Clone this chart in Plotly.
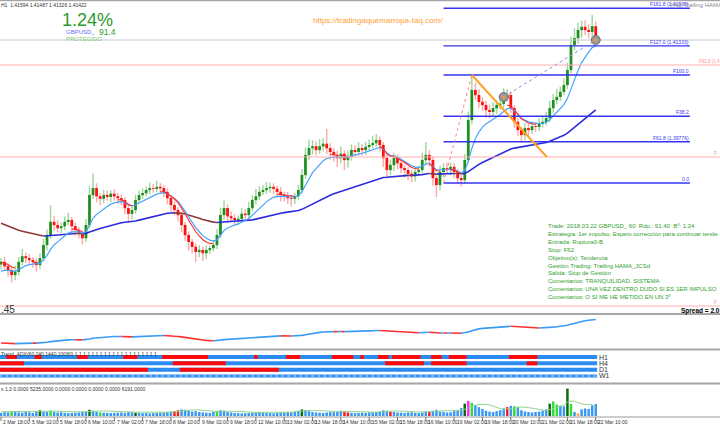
import numpy as np
import plotly.graph_objects as go

# ---------------- data ----------------
tick_labels = ["2 Mar 18:00", "5 Mar 02:00", "5 Mar 18:00", "6 Mar 10:00", "7 Mar 02:00",
               "7 Mar 18:00", "8 Mar 10:00", "9 Mar 02:00", "9 Mar 18:00", "12 Mar 10:00",
               "13 Mar 02:00", "13 Mar 18:00", "14 Mar 10:00", "15 Mar 02:00", "15 Mar 18:00",
               "16 Mar 10:00", "19 Mar 02:00", "19 Mar 18:00", "20 Mar 10:00", "21 Mar 02:00",
               "21 Mar 18:00", "22 Mar 10:00"]
tick_step = 8

first_open = 1.3783
closes = [
    1.3787, 1.3780, 1.3774, 1.3766, 1.3771, 1.3787, 1.3796, 1.3793, 1.3790, 1.3787,
    1.3782, 1.3793, 1.3814, 1.3830, 1.3851, 1.3846, 1.3841, 1.3844, 1.3851, 1.3854,
    1.3844, 1.3838, 1.3832, 1.3825, 1.3846, 1.3894, 1.3905, 1.3892, 1.3888, 1.3894,
    1.3891, 1.3896, 1.3892, 1.3889, 1.3886, 1.3873, 1.3864, 1.3870, 1.3886, 1.3894,
    1.3897, 1.3902, 1.3905, 1.3904, 1.3907, 1.3905, 1.3899, 1.3889, 1.3878, 1.3870,
    1.3862, 1.3846, 1.3830, 1.3819, 1.3811, 1.3803, 1.3806, 1.3801, 1.3806, 1.3809,
    1.3814, 1.3830, 1.3862, 1.3873, 1.3860, 1.3857, 1.3854, 1.3856, 1.3864, 1.3862,
    1.3873, 1.3886, 1.3892, 1.3899, 1.3902, 1.3905, 1.3907, 1.3904, 1.3899, 1.3894,
    1.3892, 1.3889, 1.3888, 1.3892, 1.3902, 1.3926, 1.3958, 1.3969, 1.3972, 1.3966,
    1.3972, 1.3976, 1.3969, 1.3963, 1.3958, 1.3953, 1.3960, 1.3950, 1.3955, 1.3966,
    1.3963, 1.3969, 1.3966, 1.3971, 1.3974, 1.3977, 1.3982, 1.3974, 1.3953, 1.3934,
    1.3942, 1.3953, 1.3945, 1.3937, 1.3934, 1.3928, 1.3924, 1.3931, 1.3934, 1.3950,
    1.3958, 1.3950, 1.3921, 1.3910, 1.3931, 1.3937, 1.3934, 1.3939, 1.3931, 1.3921,
    1.3918, 1.3950, 1.4014, 1.4062, 1.4054, 1.4043, 1.4038, 1.4030, 1.4027, 1.4033,
    1.4038, 1.4040, 1.4049, 1.4054, 1.4033, 1.4011, 1.3998, 1.3990, 1.4001, 1.3998,
    1.4004, 1.4003, 1.4008, 1.4011, 1.4017, 1.4033, 1.4046, 1.4051, 1.4059, 1.4070,
    1.4094, 1.4134, 1.4145, 1.4158, 1.4163, 1.4158, 1.4155, 1.4164, 1.4142]

up_wick_pips = [
    6, 8, 5, 6, 10, 8, 12, 6, 7, 5,
    6, 8, 10, 9, 27, 10, 8, 6, 9, 12,
    5, 6, 5, 6, 10, 14, 24, 8, 6, 9,
    7, 6, 8, 5, 6, 5, 6, 8, 9, 7,
    8, 6, 9, 7, 10, 6, 5, 6, 5, 6,
    5, 6, 5, 6, 5, 6, 8, 6, 7, 5,
    8, 10, 12, 13, 6, 8, 7, 6, 9, 8,
    10, 8, 12, 9, 8, 10, 7, 6, 5, 8,
    6, 7, 5, 6, 8, 10, 12, 14, 10, 8,
    12, 9, 24, 8, 6, 7, 12, 6, 10, 9,
    8, 10, 7, 8, 9, 12, 10, 6, 5, 6,
    9, 8, 6, 5, 6, 5, 6, 8, 7, 12,
    21, 8, 6, 5, 10, 8, 9, 7, 6, 5,
    6, 10, 14, 24, 12, 10, 8, 7, 9, 10,
    8, 9, 16, 10, 6, 5, 6, 5, 9, 7,
    8, 6, 9, 8, 10, 12, 10, 13, 9, 11,
    12, 14, 16, 12, 10, 11, 9, 18, 8]
lo_wick_pips = [
    8, 6, 10, 12, 8, 6, 5, 8, 6, 9,
    10, 6, 5, 8, 6, 9, 7, 8, 6, 5,
    8, 9, 7, 10, 6, 5, 6, 9, 10, 7,
    6, 8, 7, 9, 8, 10, 14, 9, 6, 5,
    6, 5, 7, 6, 5, 7, 8, 9, 10, 8,
    10, 12, 9, 14, 10, 16, 8, 12, 9, 6,
    5, 6, 5, 8, 9, 6, 7, 8, 5, 6,
    6, 5, 7, 6, 5, 6, 7, 8, 9, 10,
    8, 9, 12, 8, 6, 5, 6, 8, 10, 9,
    6, 8, 9, 12, 10, 14, 8, 16, 12, 6,
    7, 6, 9, 8, 6, 5, 6, 10, 14, 13,
    8, 9, 10, 8, 12, 10, 9, 8, 6, 5,
    6, 10, 12, 19, 8, 9, 6, 8, 10, 9,
    10, 6, 5, 6, 8, 10, 9, 12, 10, 8,
    9, 7, 6, 5, 8, 10, 9, 11, 8, 9,
    6, 8, 7, 6, 5, 6, 8, 7, 6, 5,
    6, 5, 8, 9, 12, 8, 10, 7, 6]

volumes = [
    700, 900, 800, 1000, 900, 800, 750, 900, 850, 700,
    1100, 1300, 1000, 900, 1200, 950, 800, 850, 700, 650,
    700, 750, 800, 900, 1100, 1400, 1200, 900, 800, 750,
    700, 650, 700, 750, 800, 700, 900, 850, 750, 700,
    650, 700, 600, 650, 700, 750, 800, 900, 1000, 1100,
    1300, 1500, 1400, 1200, 1000, 1100, 900, 800, 750, 700,
    900, 1100, 1300, 1200, 900, 800, 700, 650, 600, 650,
    700, 750, 800, 900, 850, 700, 650, 600, 700, 750,
    800, 900, 850, 1000, 1200, 1500, 1300, 1100, 900, 800,
    750, 700, 800, 900, 850, 1000, 1200, 900, 800, 700,
    650, 700, 750, 700, 800, 850, 900, 1000, 1300, 1200,
    1000, 900, 800, 750, 700, 800, 850, 700, 650, 800,
    1000, 900, 1200, 1400, 1000, 900, 800, 850, 1100, 1300,
    1800, 2800, 3400, 3000, 2500, 2000, 1600, 1200, 1000, 900,
    1100, 1300, 1700, 2000, 2300, 2200, 2100, 1300, 1000, 900,
    800, 900, 1000, 1200, 1500, 2800, 3300, 2600, 2300, 2200,
    6191, 2700, 900, 600, 1500, 1700, 1600, 2400, 2700]
vol_class = {3: "g", 11: "G", 14: "g", 25: "G", 28: "g", 38: "G", 49: "r", 50: "r",
             61: "g", 85: "G", 97: "r", 98: "r", 110: "r", 121: "r", 131: "G",
             132: "m", 133: "g", 143: "r", 145: "g", 155: "G", 156: "g", 157: "g",
             160: "G", 161: "g", 163: "o"}

trend_rows = ["H1", "H4", "D1", "W1"]
trend_red_spans = {
    "H1": [(2, 4), (10, 11), (22, 24), (35, 38), (46, 58), (72, 72), (81, 84), (94, 99),
           (102, 102), (107, 109), (111, 118), (122, 124), (127, 131), (144, 151)],
    "H4": [(0, 6), (49, 63), (109, 119), (122, 131), (149, 151)],
    "D1": [(0, 41), (51, 78)],
    "W1": [],
}

bid_price = 1.41422
fib_low, fib_high = 1.39134, 1.40862
fib_start_idx, fib_high_idx, fib_right_idx = 125, 133, 194.6
fib_levels = [0.0, 0.382, 0.618, 1.0, 1.27, 1.618]
fib_labels = ["0.0", "F61.8 (1.39776)", "F38.2", "F100.0", "F127.0 (1.41333)", "F161.8 (1.41930)"]
pink_levels = [1.41022, 1.39550, 1.37166]
pink_labels = ["F61.8 (1.4", "F", "F"]
pink_label_px = [698, 713, 713]
entry_point = (142, 1.4051)
last_point = (168, 1.41422)
orange_end = (154.2, 1.39550)

comment_lines = [
    "Trade: 2018.03.22 GBPUSD_ 60  Rdo.: 91.40  Bº: 1.24",
    "Estrategia: 1er impulso. Espero corrección para continuar tende",
    "Entrada: Ruptura0-B",
    "Stop: F62",
    "Objetivo(s): Tendencia",
    "Gestión Trading: Trailing HAMA_JCSd",
    "Salida: Stop de Gestión",
    "Comentarios: TRANQUILIDAD. SISTEMA",
    "Comentarios: UNA VEZ DENTRO DUDO SI ES 1ER IMPULSO",
    "Comentarios: O SI ME HE METIDO EN UN 3º",
]

# ---------------- derived ----------------
W, H = 720, 426
n = len(closes)
idx = np.arange(n)
c = np.array(closes)
o = np.concatenate([[first_open], c[:-1]])
hi = np.maximum(o, c) + np.array(up_wick_pips) * 0.0001
lo = np.minimum(o, c) - np.array(lo_wick_pips) * 0.0001


def ema(vals, period, seed=None):
    a = 2.0 / (period + 1)
    prev = vals[0] if seed is None else seed
    out = []
    for v in vals:
        prev = prev + a * (v - prev)
        out.append(prev)
    return np.array(out)


def slope_segments(x, y, rising=True):
    xs, ys = [], []
    last = None
    for i in range(1, len(y)):
        cond = (y[i] >= y[i - 1]) if rising else (y[i] < y[i - 1])
        if cond:
            if last == i - 1:
                xs.append(x[i]); ys.append(y[i])
            else:
                xs += [None, x[i - 1], x[i]]; ys += [None, y[i - 1], y[i]]
            last = i
    return xs, ys


def py(px):
    return 1 - px / H


FONT = "Liberation Sans"
fig = go.Figure()

# main price panel: candles drawn as bars (light shadow, dark body) -------
bull = c >= o
for mask, light in [(bull, "#9fd69f"), (~bull, "#ffa8a8")]:
    fig.add_trace(go.Bar(x=idx[mask], y=(hi - lo)[mask], base=lo[mask], width=0.4,
                         marker=dict(color=light, line=dict(width=0)), showlegend=False,
                         xaxis="x", yaxis="y", hoverinfo="skip"))
for mask, dark in [(bull, "#1f8f1f"), (~bull, "#ff1010")]:
    fig.add_trace(go.Bar(x=idx[mask], y=np.abs(c - o)[mask] + 0.00003, base=np.minimum(o, c)[mask],
                         width=0.78, marker=dict(color=dark, line=dict(width=0)), showlegend=False,
                         xaxis="x", yaxis="y", hoverinfo="skip"))

slow = ema(c, 60, seed=1.3851)
for rising, col in [(True, "#2b2bdc"), (False, "#8e3b36")]:
    xs, ys = slope_segments(idx, slow, rising)
    fig.add_trace(go.Scatter(x=xs, y=ys, mode="lines", line=dict(color=col, width=1.6),
                             showlegend=False, hoverinfo="skip"))
fast = ema(c, 10, seed=1.3769)
fig.add_trace(go.Scatter(x=idx, y=fast, mode="lines", line=dict(color="#46a3ff", width=1.2),
                         showlegend=False, hoverinfo="skip"))
hama = ema(c, 8)
xs, ys = slope_segments(idx, hama, rising=False)
fig.add_trace(go.Scatter(x=xs, y=ys, mode="lines", line=dict(color="#ff2a2a", width=1.1),
                         showlegend=False, hoverinfo="skip"))

# fibonacci and drawn objects
fib_range = fib_high - fib_low
for lev, lab in zip(fib_levels, fib_labels):
    p = fib_low + lev * fib_range
    fig.add_trace(go.Scatter(x=[fib_start_idx, fib_right_idx], y=[p, p], mode="lines",
                             line=dict(color="#3535f0", width=1.4), showlegend=False, hoverinfo="skip"))
    fig.add_annotation(x=fib_right_idx, y=p, xref="x", yref="y", text=lab, showarrow=False,
                       xanchor="right", yanchor="bottom", borderpad=0,
                       font=dict(size=5, color="#3535f0", family=FONT))
for p, lab, xpx in zip(pink_levels, pink_labels, pink_label_px):
    fig.add_trace(go.Scatter(x=[-1, 210], y=[p, p], mode="lines",
                             line=dict(color="#ffb0b0", width=1.2), showlegend=False, hoverinfo="skip"))
    fig.add_annotation(x=xpx / W, y=p, xref="paper", yref="y", text=lab, showarrow=False,
                       xanchor="left", yanchor="bottom", borderpad=0,
                       font=dict(size=4.5, color="#ff8a8a", family=FONT))
fig.add_trace(go.Scatter(x=[-1, 210], y=[bid_price, bid_price], mode="lines",
                         line=dict(color="#c8ccd2", width=1), showlegend=False, hoverinfo="skip"))
fig.add_trace(go.Scatter(x=[fib_start_idx, fib_high_idx], y=[fib_low, fib_high], mode="lines",
                         line=dict(color="#ff8080", width=1, dash="dot"), showlegend=False, hoverinfo="skip"))
fig.add_trace(go.Scatter(x=[entry_point[0], last_point[0]], y=[entry_point[1], last_point[1]], mode="lines",
                         line=dict(color="#8a8ae8", width=1, dash="dot"), showlegend=False, hoverinfo="skip"))
fig.add_trace(go.Scatter(x=[fib_high_idx, orange_end[0]], y=[fib_high, orange_end[1]], mode="lines",
                         line=dict(color="#ffa126", width=2), showlegend=False, hoverinfo="skip"))
fig.add_trace(go.Scatter(x=[entry_point[0], last_point[0]], y=[entry_point[1], last_point[1]], mode="markers",
                         marker=dict(size=9, color="#9a9a9a", line=dict(color="#707070", width=1)),
                         showlegend=False, hoverinfo="skip"))
fig.add_trace(go.Scatter(x=[entry_point[0], last_point[0]], y=[entry_point[1], last_point[1]], mode="markers",
                         marker=dict(size=3, color="#ff9a30"), showlegend=False, hoverinfo="skip"))

# indicator panel 1 ------------------------------------------------------
ind = ema(c, 10)
for rising, col in [(True, "#3a9bf5"), (False, "#ff3030")]:
    xs, ys = slope_segments(idx, ind, rising)
    fig.add_trace(go.Scatter(x=xs, y=ys, mode="lines", line=dict(color=col, width=1.6),
                             xaxis="x", yaxis="y2", showlegend=False, hoverinfo="skip"))

# trend panel ------------------------------------------------------------
row_val = {"H1": 4, "H4": 3, "D1": 2, "W1": 1}
for r in trend_rows:
    v = row_val[r]
    fig.add_trace(go.Scatter(x=[-0.5, n - 0.6], y=[v, v], mode="lines",
                             line=dict(color="#2a8cf0", width=4 if r != "W1" else 3),
                             xaxis="x", yaxis="y3", showlegend=False, hoverinfo="skip"))
    if r == "W1":
        fig.add_trace(go.Scatter(x=[-0.5, n - 0.6], y=[v, v], mode="lines",
                                 line=dict(color="#bfe0ff", width=1, dash="dot"),
                                 xaxis="x", yaxis="y3", showlegend=False, hoverinfo="skip"))
    xs, ys = [], []
    for s, e in trend_red_spans[r]:
        xs += [s - 0.5, e + 0.5, None]; ys += [v, v, None]
    if xs:
        fig.add_trace(go.Scatter(x=xs, y=ys, mode="lines", line=dict(color="#ff0a0a", width=4),
                                 xaxis="x", yaxis="y3", showlegend=False, hoverinfo="skip"))
    fig.add_annotation(x=n - 0.4, y=v, xref="x", yref="y3", text=r, showarrow=False,
                       xanchor="left", yanchor="middle", borderpad=0,
                       font=dict(size=7, color="#333333", family=FONT))

# volume panel -----------------------------------------------------------
vcol_map = {"b": "#3a97f2", "g": "#33dd33", "G": "#0b6b0b", "r": "#ff1a1a", "m": "#ff22ff", "o": "#ffaa33"}
vcols = [vcol_map[vol_class.get(i, "b")] for i in range(n)]
fig.add_trace(go.Bar(x=idx, y=volumes, width=0.7, marker=dict(color=vcols, line=dict(width=0)),
                     xaxis="x", yaxis="y4", showlegend=False, hoverinfo="skip"))
vma = np.convolve(np.array(volumes, float), np.ones(8) / 8, mode="full")[:n]
vma[:7] = np.array(volumes[:7], float).mean()
fig.add_trace(go.Scatter(x=idx, y=vma * 1.15, mode="lines", line=dict(color="#8fd88f", width=1),
                         xaxis="x", yaxis="y4", showlegend=False, hoverinfo="skip"))

# ---------------- layout ----------------
xr = [-0.28, 203.1]
fig.update_layout(
    width=W, height=H, autosize=False, margin=dict(l=0, r=0, t=0, b=0),
    paper_bgcolor="white", plot_bgcolor="white", barmode="overlay", showlegend=False,
    xaxis=dict(range=xr, visible=False, fixedrange=True),
    yaxis=dict(domain=[py(313), py(2)], range=[1.37054, 1.42030], visible=False),
    yaxis2=dict(domain=[py(348), py(316)], range=[1.3714, 1.4184], visible=False),
    yaxis3=dict(domain=[py(382), py(351)], range=[0.05, 4.95], visible=False),
    yaxis4=dict(domain=[py(416), py(385)], range=[0, 7000], visible=False),
)

shapes = []
for ypx in [0.5, 314, 349.5, 383.5]:
    shapes.append(dict(type="line", xref="paper", yref="paper", x0=0, x1=1, y0=py(ypx), y1=py(ypx),
                       line=dict(color="#a6a6a6", width=2 if ypx > 1 else 1.5)))
shapes.append(dict(type="line", xref="paper", yref="paper", x0=0, x1=1, y0=py(417), y1=py(417),
                   line=dict(color="#9a9a9a", width=1)))
for k, lab in enumerate(tick_labels):
    xi = k * tick_step
    shapes.append(dict(type="line", xref="x", yref="paper", x0=xi, x1=xi, y0=py(417), y1=py(421),
                       line=dict(color="#777777", width=1)))
    fig.add_annotation(x=xi + 0.4, y=py(421.5), xref="x", yref="paper", text=lab, showarrow=False,
                       xanchor="left", yanchor="middle", borderpad=0,
                       font=dict(size=5, color="#333333", family=FONT))
fig.update_layout(shapes=shapes)


def txt(xpx, ypx, s, size, color, xanchor="left"):
    fig.add_annotation(x=xpx / W, y=py(ypx), xref="paper", yref="paper", text=s, showarrow=False,
                       xanchor=xanchor, yanchor="middle", borderpad=0,
                       font=dict(size=size, color=color, family=FONT))


txt(0, 5, "H1  1.41594 1.41487 1.41326 1.41422", 5, "#333333")
txt(61, 19.5, "1.24%", 18, "#2c9b2c")
txt(65, 31.5, "GBPUSD_", 6, "#6b6bff")
txt(98, 31.5, "91.4", 8.5, "#2c9b2c")
txt(65, 38.5, "PROTEGIDO", 6, "#7cc97c")
txt(312, 20, "https://tradingaquemarropa-taq.com/", 8, "#ffa033")
txt(669, 5, "FAQ Trailing HAMA_JCSd", 6, "#888888")
txt(0, 309, ".45", 10, "#333333")
txt(680, 310.5, "<b>Spread = 2.0</b>", 6.5, "#000000")
txt(0, 353.5, "Trend_ADX(60,240,1440,10080) 1 1 1 1 1 1 1 1 1 1 1 1 1 1 1 1 1 1 1 1", 5, "#333333")
txt(0, 388.5, "s 1.3 0.0000 5235.0000 0.0000 0.0000 0.0000 0.0000 6191.0000", 5, "#333333")
for k, line in enumerate(comment_lines):
    txt(547, 226 + 7.9 * k, line, 6, "#2fa02f")

fig.write_html("out.html", config={"displayModeBar": False, "staticPlot": True},
               post_script="document.body.style.margin='0';document.body.style.overflow='hidden';")
